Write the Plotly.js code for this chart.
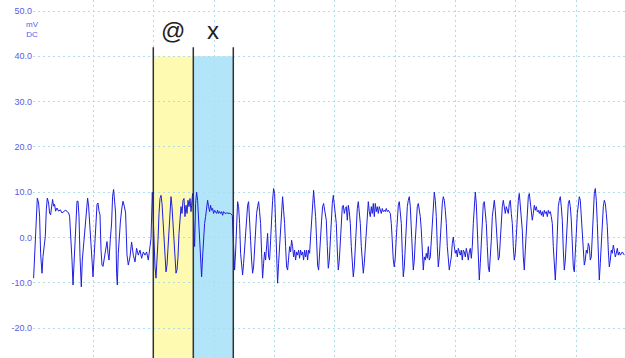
<!DOCTYPE html>
<html>
<head>
<meta charset="utf-8">
<script src="https://cdn.plot.ly/plotly-3.0.1.min.js"></script>
<style>
html,body{margin:0;padding:0;background:#fff;}
#chart{width:625px;height:358px;}
</style>
</head>
<body>
<div id="chart"></div>
<script>
// time (samples) and signal (mV DC)
var timeSamples = [
0.3,1.3,2.7,4.0,5.3,6.3,7.3,8.7,9.7,10.7,12.0,13.0,14.0,15.3,16.3,17.3,18.3,19.3,20.3,21.3,22.3,23.7,25.3,27.0,28.7,30.3,32.0,33.7,35.3,36.3,37.7,38.7,39.7,40.7,41.7,42.7,43.7,44.7,45.7,46.7,48.0,49.0,50.0,51.0,52.3,53.3,54.3,55.3,56.3,57.3,58.7,59.7,60.7,61.7,62.7,63.7,64.7,65.7,66.7,67.7,68.7,69.7,70.7,71.7,72.7,73.7,74.7,75.7,77.0,78.3,79.3,80.3,81.3,82.3,83.3,84.0,85.0,86.0,87.0,88.3,89.7,91.0,92.3,93.7,95.0,
96.7,98.3,100,101.7,103.3,105,106.7,108.3,110,111.7,113.3,115,116.7,117.7,119,120.3,121.7,122.7,123.7,124.7,125.7,126.7,127.7,128.7,129.7,130.7,131.7,132.7,133.7,134.7,135.7,136.7,137.7,138.7,139.7,140.7,141.7,142.7,143.7,144.7,145.7,146.7,147.7,148.7,149.7,150.7,151.7,152.7,153.7,154.7,155.7,156.7,157.7,158.3,159.3,160.3,161.3,162.3,163.3,164.3,165.3,166.3,167.3,168.3,169.3,170.3,171.3,172.3,173.3,174.3,175.3,176.3,177.3,178.3,179.3,180.3,181.3,182.3,183.3,184.3,185.3,186.3,187.3,188.3,189.3,190.3,191.7,193.3,195,
197,199,200.3,201.3,202.3,203.3,204.3,205.3,206.3,207.3,208.3,209.3,210.3,211.3,212.3,213.3,214.3,215.3,216.3,217.3,218.3,219.3,220.3,221.3,222.3,223.3,224.3,225.3,226.3,227.3,228.3,229.3,230.3,231.3,232.3,233.3,234.3,235.3,236.3,237.3,238.3,239.3,240.3,241.3,242.3,243.3,244.3,245.3,246.3,247.3,248.3,249.3,250.3,251.3,252.3,253.3,254.3,255.3,256.3,257.3,258.3,259.3,260.3,261.3,262.3,263.3,264.3,265.3,266.3,267.3,268.3,269.3,270.3,271.3,272.3,273.3,274.3,275.3,276.3,277.3,278.3,279.3,280.3,281.3,282.3,283.3,284.3,285.3,286.3,287.3,288.3,289.3,290.3,291.3,292.3,
293,294,295,296,297,298,299,300,301,302,303,304,305,306,307,308,309,310,311,312,313,314,315,316,317,318,319,320,321,322,323,324,325,326,327,328,329,330,331,332,333,334,335,336,337,338,339,340,341,342,343,344,345,346,347,348,349,350,351,352,353,354,355,356,357,358,359,360,361,362,363,364,365,366,367,368,369,370,371,372,373,374,375,376,377,378,379,380,381,382,383,384,385,386,387,388,389,390,
391,392,393,394,395,396,397,398,399,400,401,402,403,404,405,406,407,408,409,410,411,412,413,414,415,416,417,418,419,420,421,422,423,424,425,426,427,428,429,430,431,432,433,434,435,436,437,438,439,440,441,442,443,444,445,446,447,448,449,450,451,452,453,454,455,456,457,458,459,460,461,462,463,464,465,466,467,468,469,470,471,472,473,474,475,476,477,478,479,480,481,482,483,484,485,486,487,488,
489,490,491,492,493,494,495,496,497,498,499,500,501,502,503,504,505,506,507,508,509,510,511,512,513,514,515,516,517,518,519,520,521,522,523,524,525,526,527,528,529,530,531,532,533,534,535,536,537,538,539,540,541,542,543,544,545,546,547,548,549,550,551,552,553,554,555,556,557,558,559,560,561,562,563,564,565,566,567,568,569,570,571,572,573,574,575,576,577,578,579,580,581,582,583,584,585,586,587,588,589,591
];
var signalMv = [
-9,-3,4.7,8.7,7.6,4.7,-3.5,-7.9,-4.2,-1.6,0.2,6.1,8.7,7.6,5.4,5.0,7.6,8.4,6.9,7.3,5.8,6.5,5.8,6.1,5.4,5.8,6.0,5.8,5.4,4.7,0.2,-5,-10.5,-5.7,-3.5,1.7,8,8,4.7,-4.2,-10.9,-5,-2.7,0.2,2.4,6.1,8.7,6.9,3.9,0.2,-5,-8.7,-3.5,-2,3.2,7.3,7.6,5.8,5.0,-2.7,-6.1,-6.4,-5,-3.9,-2.4,-0.9,-3.5,-5,-0.5,3.2,9.1,10.6,8,5.4,-7.9,-10.5,-3.5,1.7,3.2,6.1,8,6.9,5.4,-3.9,-6.1,
-4.3,-1,-3.9,-5.4,-2.4,-3.9,-2.8,-4.6,-3.2,-3.9,-3.2,-5,-2,-0.2,10,1.6,-6.5,-9,-5.7,-0.6,5.3,8.6,9.3,7.5,3.8,-0.6,-5.7,-7.6,-6.1,-2,2.4,7.1,9,6.8,3.1,-1.3,-5.4,-7.9,-7.2,-4.3,0.9,4.6,6.8,5.3,8.2,8.6,4.6,7.1,5.3,8.2,6.8,8.6,5.7,7.1,9.7,3.8,-2,7.5,10,8.2,3.1,-2,-6.5,-8.7,-4.3,0.9,3.1,4.6,7.1,8.2,6.8,5.7,7.1,6.0,6.4,5.3,6,5.7,5.3,6,5.3,5.7,5.3,5.7,4.9,5.7,5.3,5.4,5.3,
5.3,4.9,-0.6,-7.2,-3.2,3.8,7.9,6.8,3.1,-3.5,-7.2,-8.3,-5.7,-2,2,5.7,7.1,7.9,4.6,-0.6,-5,-7.9,-6.5,-2,2.4,5.3,6.8,7.9,5.7,3.1,-3.5,-9,-5.7,-3.2,-5,-2,0.9,-4.3,-5,-0.6,6,8.2,10.8,9.7,3.1,-4.3,-10.1,-5.7,-2,3.8,7.5,9,6,3.1,-2,-6.5,-7.2,-5,-2,-3.2,-0.6,-2,-4.3,-2.8,-5,-3.2,-3.9,-2.8,-4.6,-2.8,-3.9,-3.2,-5,-2.8,-4.3,-2.8,-5,-2.8,-3.5,0.1,3.8,6.8,10.4,7.5,4.6,-0.6,-6.1,-7.2,-4.3,0.1,3.8,6.8,7.5,6,5.3,
3.8,-2,-6.8,-5,-0.6,4.6,7.5,9.3,6.8,5.3,3.1,-2.8,-7.2,-5,-0.6,3.8,6.8,7.1,5.3,6.4,6.8,3.8,7.1,5.7,3.1,-2,-6.5,-8.7,-6.5,-2,3.1,6.4,7.9,6,3.1,-2,-6.5,-7.9,-5.7,-2,3.1,6.8,7.9,5.7,4.6,6.8,5.3,7.5,4.6,7.5,5.7,6.8,5.3,6.8,6,5.3,6.4,5.7,6,5.7,6.4,5.7,6,5.7,5.3,3.1,-2,-5,-6.5,-4.3,0.1,4.6,7.1,7.9,6,3.1,-3.5,-8.7,-6.5,-2,3.1,6.8,8.2,9,6.8,3.1,-2.8,-7.2,-5,-0.6,3.8,6.8,7.5,6,4.6,1.6,-4.3,-7.2,
-4.3,-5,-3.5,-4.6,-2,-5,-4.3,-0.6,5.3,8.2,10,8.2,4.6,-2,-6.5,-4.3,-0.6,4.6,7.5,9,8.2,6,3.1,-2,-5.7,-7.2,-5.7,-4.3,-1.3,0.1,-2,-3.5,-2.8,-4.3,-2.4,-3.2,-3.9,-2.8,-5,-2.8,-3.2,-4.3,-2.4,-3.5,-5,-3.2,-2.4,-4.6,-2,3.1,8.2,10,7.5,1.6,-5.7,-9.4,-5.7,-1.3,4.6,7.5,7.9,5.3,3.1,-2,-6.5,-7.6,-5,-0.6,4.6,7.1,8.2,6,2.4,-2.8,-5,-4.3,-0.6,4.6,6.8,8.2,6.8,5.3,6.8,6,5.3,7.5,8.2,5.3,3.1,-2,-5,-3.5,0.9,5.3,8.2,9.7,7.5,5.3,
1.6,-4.3,-7.2,-2.8,2.4,6.8,9,9.7,7.5,4.6,3.8,5.3,7.1,6,6.8,5.7,6,5.3,6,4.9,5.7,4.6,6,5.3,5.7,4.6,6,5.3,5.7,4.6,3.1,-2,-7.2,-9.4,-5,1.6,6.8,8.2,9,6.8,3.8,-2.8,-7.2,-5,0.1,5.3,7.5,8.2,6.8,3.8,-2,-6.5,-7.6,-4.3,0.9,5.3,7.5,9,8.2,4.6,0.9,-4.3,-6.1,-5,-2.8,-3.5,-1.3,-2,-5,-4.3,0.1,6,9.7,10.8,8.2,3.1,-6.5,-9.4,-5.7,-0.6,3.8,6.8,8.2,7.5,5.3,2.4,-2.8,-6.5,-5,-2.8,-3.5,-1.7,-2.8,-4.3,-3.5,-2.4,-3.9,-3.2,-3.9,-3.5,-3.2,-3.9
];
var yTicks = [-20, -10, 0, 10, 20, 30, 40, 50];
var unitLines = ["mV", "DC"];
var cursorLabels = ["@", "x"];
var cursorStart = [120, 160];
var cursorEnd = [160, 200];
var cursorColors = ["rgb(255,250,178)", "rgb(178,228,250)"];
var cursorEdges = [120, 160, 200];

var gridColor = "rgb(175,222,232)";
var labelFont = {family:"Liberation Sans, Arial, sans-serif", size:9, color:"rgb(90,90,235)"};
var shapes = [];
for (var i = 0; i < cursorStart.length; i++) {
  shapes.push({type:"rect", xref:"x", yref:"y", x0:cursorStart[i], x1:cursorEnd[i], y0:-30, y1:40,
    fillcolor:cursorColors[i], line:{width:0}, layer:"below"});
}
for (var j = 0; j < cursorEdges.length; j++) {
  shapes.push({type:"line", xref:"x", yref:"y", x0:cursorEdges[j], x1:cursorEdges[j], y0:-30, y1:42,
    line:{color:"rgb(50,50,50)", width:1.5}, layer:"above"});
}
var annotations = [];
for (var k = 0; k < cursorLabels.length; k++) {
  annotations.push({xref:"x", yref:"y", x:(cursorStart[k]+cursorEnd[k])/2, y:45.7, text:cursorLabels[k],
    showarrow:false, font:{family:"Liberation Sans, Arial, sans-serif", size:24, color:"#222"}});
}
annotations.push({xref:"paper", yref:"y", x:0, xshift:-9, y:45.9, yanchor:"middle", text:unitLines.join("<br>"),
  showarrow:false, font:{family:"Liberation Sans, Arial, sans-serif", size:8, color:"rgb(90,90,235)"}});

var trace = {x:timeSamples, y:signalMv, type:"scatter", mode:"lines",
  line:{color:"rgb(30,30,225)", width:1}, hoverinfo:"skip"};

var layout = {
  width:625, height:358,
  margin:{l:33, r:0, t:0, b:0, pad:0},
  paper_bgcolor:"#fff", plot_bgcolor:"#fff",
  showlegend:false,
  xaxis:{range:[-0.3, 591.7], tick0:0, dtick:60.3, showticklabels:false, ticks:"",
    showgrid:true, gridcolor:gridColor, griddash:"2px,3px", gridwidth:1, zeroline:false, showline:false},
  yaxis:{range:[-26.62, 52.43], tickvals:yTicks, ticktext:yTicks.map(function(v){return v.toFixed(1);}),
    ticks:"", ticklabeloverflow:"allow", showgrid:true, gridcolor:gridColor, griddash:"2px,3px", gridwidth:1,
    zeroline:false, showline:false, tickfont:labelFont},
  shapes:shapes,
  annotations:annotations
};
Plotly.newPlot("chart", [trace], layout, {staticPlot:true, displayModeBar:false});
</script>
</body>
</html>
